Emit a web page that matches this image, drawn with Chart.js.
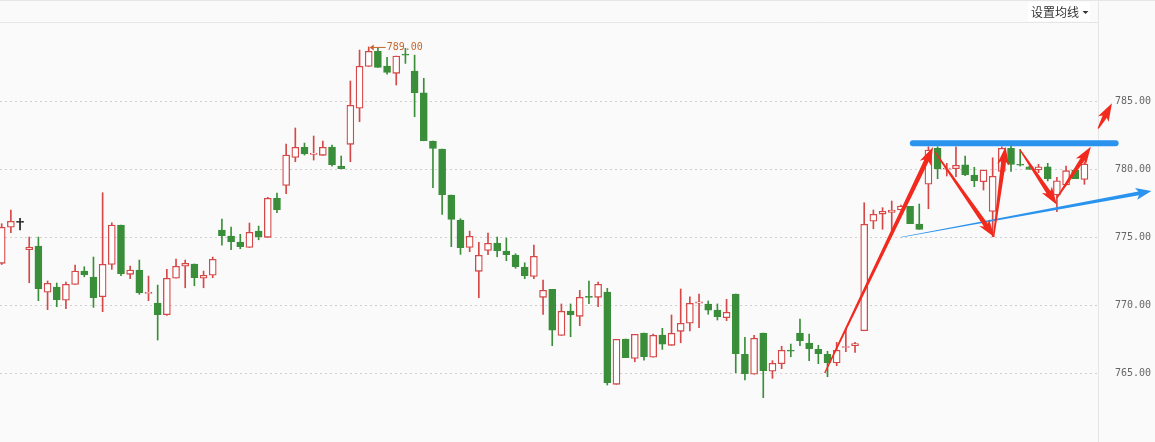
<!DOCTYPE html>
<html><head><meta charset="utf-8">
<script src="https://cdn.jsdelivr.net/npm/chart.js@4/dist/chart.umd.min.js"></script>
<style>html,body{margin:0;padding:0;background:#fafafa;}canvas{display:block;}</style>
</head><body>
<canvas id="c" width="1155" height="442"></canvas>
<script>
// ---- data (candle index 0..118) ----
const openP = [773.09,775.74,776.10,774.09,774.36,770.96,771.35,770.37,771.54,772.52,
772.08,770.63,773.01,775.90,772.28,772.60,770.88,770.17,769.31,771.99,
772.87,773.04,771.99,772.21,775.54,775.10,774.65,774.26,775.46,775.00,
777.87,778.82,780.88,781.62,781.10,781.03,781.64,780.24,781.84,784.49,
787.57,788.68,787.60,787.06,788.45,787.23,785.63,782.08,781.49,778.11,
776.27,774.26,772.50,774.04,774.58,773.99,773.70,772.82,772.13,770.59,
771.18,767.79,769.58,769.19,770.63,770.59,770.98,764.19,767.52,766.10,
767.96,766.18,767.82,767.06,768.09,768.68,770.15,770.10,769.65,769.09,
770.83,766.40,764.93,767.96,765.15,765.71,766.70,767.96,767.23,766.76,
766.40,765.76,766.90,767.03,768.13,776.18,776.71,776.84,777.01,777.28,
775.98,778.90,781.54,780.02,780.04,780.34,779.58,779.09,776.91,779.85,
781.54,780.35,780.19,779.95,780.19,778.11,778.85,779.95,779.26];
const highP = [776.00,777.00,776.40,775.02,775.02,771.79,771.64,771.71,772.96,772.84,
773.55,778.28,776.07,775.90,772.89,773.33,772.15,771.49,772.65,773.40,
773.33,773.04,772.52,773.55,776.35,775.76,775.22,776.05,775.83,777.94,
778.26,781.86,783.04,781.93,782.45,782.08,781.79,780.98,786.49,788.77,
789.00,788.90,788.24,788.33,788.90,788.40,786.69,782.08,781.49,778.11,
776.37,775.46,774.63,775.32,775.02,774.95,773.79,773.13,774.43,771.86,
771.18,770.10,770.10,771.10,771.79,771.71,771.25,767.50,767.52,767.87,
767.96,767.89,768.31,769.29,771.20,770.63,770.83,770.32,770.10,770.44,
770.83,767.65,767.79,767.96,765.93,766.99,767.15,768.99,767.89,767.06,
766.62,767.28,768.28,767.28,777.54,777.01,777.18,777.67,777.38,777.28,
777.45,781.66,781.66,780.44,781.66,780.98,780.15,779.95,780.85,781.66,
781.74,781.47,780.24,780.37,780.44,779.41,780.24,779.95,780.54];
const lowP = [773.00,775.34,775.54,771.66,770.34,769.68,769.90,769.75,771.54,772.10,
769.85,769.53,772.65,772.18,771.96,770.81,770.34,767.45,769.26,771.99,
771.29,771.44,771.29,772.03,774.43,774.09,774.16,774.26,774.82,775.00,
776.81,778.21,780.56,781.05,780.68,781.03,780.24,780.04,780.56,783.50,
787.57,787.50,787.00,786.20,787.79,783.87,782.10,778.65,776.69,774.31,
773.75,773.94,770.56,773.72,773.57,773.28,772.72,771.96,771.96,769.34,
767.03,767.79,767.69,768.50,770.12,769.90,764.14,764.19,766.15,765.85,
765.96,766.18,766.76,767.06,767.25,768.11,768.35,769.34,768.92,768.87,
765.04,764.51,764.93,763.21,764.63,765.34,766.22,767.03,765.93,765.71,
764.75,765.56,766.59,766.54,768.13,775.63,775.59,775.46,777.01,776.00,
775.59,777.10,779.31,779.51,779.46,779.53,778.72,778.48,775.04,779.85,
779.85,780.24,780.00,779.75,779.14,776.88,778.85,779.31,778.90];
const closeP = [775.74,776.18,776.10,774.29,771.22,771.62,770.41,771.54,772.52,772.25,
770.56,773.01,775.90,772.32,772.60,770.93,770.93,769.31,771.99,772.87,
773.09,772.03,772.21,773.38,775.12,774.68,774.31,775.37,775.04,777.87,
777.03,781.05,781.62,781.13,781.20,781.62,780.34,780.04,784.71,787.57,
788.68,787.50,787.13,788.33,788.40,785.63,782.10,781.54,778.13,776.32,
774.24,775.07,773.68,774.56,774.01,773.72,772.84,772.18,773.60,771.10,
768.18,769.56,769.31,770.59,770.58,771.54,764.31,767.50,766.15,767.87,
766.22,767.79,767.15,767.94,768.68,770.15,770.25,769.65,769.16,769.49,
766.44,764.97,767.57,765.19,765.74,766.69,766.63,767.40,766.81,766.44,
765.78,766.69,766.96,767.18,775.96,776.69,776.91,777.01,777.30,776.00,
775.59,781.42,780.04,780.07,780.29,779.60,779.16,779.95,779.49,781.54,
780.37,780.30,780.00,780.19,779.31,779.16,779.90,779.31,780.39];
const yTicks = [765, 770, 775, 780, 785];
const headerText = '设置均线';
// drawn annotations, in (candle index, price)
const resistance = {from: 99.3, to: 121.4, price: 781.91};
const trendArrow = [[98.0, 775.0], [125.3, 778.40]];
const redArrows = [
  [[89.7, 765.02], [101.5, 781.64]],
  [[101.7, 781.29], [108.2, 775.0]],
  [[108.1, 775.04], [109.4, 781.66]],
  [[111.0, 781.42], [115.0, 777.40]],
  [[115.0, 777.90], [118.7, 781.66]],
  [[119.5, 783.0], [121.0, 784.85]]
];

const RED = '#d64848', GREEN = '#3a8e3a', DOJI = '#222222';
const idx = openP.map((_, i) => i);
const stroke = idx.map(i => closeP[i] > openP[i] ? RED : closeP[i] < openP[i] ? GREEN : DOJI);
const fill = idx.map(i => closeP[i] > openP[i] ? '#ffffff' : stroke[i]);
const wickData = idx.map(i => ({x: i, y: [lowP[i], highP[i]]}));
const bodyData = idx.map(i => ({x: i, y: [openP[i], closeP[i]]}));

function taperArrow(ctx, x0, y0, x1, y1, w0, w1, headLen, headW, color) {
  const dx = x1 - x0, dy = y1 - y0, len = Math.hypot(dx, dy);
  const ux = dx / len, uy = dy / len, nx = -uy, ny = ux;
  const bx = x1 - ux * headLen, by = y1 - uy * headLen;
  const nbx = x1 - ux * headLen * 1.2, nby = y1 - uy * headLen * 1.2;
  ctx.fillStyle = color;
  ctx.beginPath();
  ctx.moveTo(x0 + nx * w0 / 2, y0 + ny * w0 / 2);
  ctx.lineTo(bx + nx * w1 / 2, by + ny * w1 / 2);
  ctx.lineTo(nbx + nx * headW / 2, nby + ny * headW / 2);
  ctx.lineTo(x1, y1);
  ctx.lineTo(nbx - nx * headW / 2, nby - ny * headW / 2);
  ctx.lineTo(bx - nx * w1 / 2, by - ny * w1 / 2);
  ctx.lineTo(x0 - nx * w0 / 2, y0 - ny * w0 / 2);
  ctx.closePath();
  ctx.fill();
}

const overlay = {
  id: 'overlay',
  beforeDraw(chart) {
    const ctx = chart.ctx;
    ctx.save();
    ctx.fillStyle = '#fafafa'; ctx.fillRect(0, 0, chart.width, chart.height);
    ctx.restore();
  },
  afterDraw(chart) {
    const ctx = chart.ctx, xs = chart.scales.x, ys = chart.scales.y, ca = chart.chartArea;
    const X = v => xs.getPixelForValue(v), Y = v => ys.getPixelForValue(v);
    ctx.save();
    // header
    ctx.strokeStyle = '#e6e6e6'; ctx.lineWidth = 1;
    ctx.beginPath(); ctx.moveTo(0, 0.5); ctx.lineTo(chart.width, 0.5); ctx.stroke();
    ctx.beginPath(); ctx.moveTo(0, 22.5); ctx.lineTo(ca.right, 22.5); ctx.stroke();
    ctx.fillStyle = '#ffffff'; ctx.fillRect(1028, 2, 62, 19);
    ctx.fillStyle = '#333333'; ctx.font = '12px "Noto Sans CJK SC"';
    ctx.textBaseline = 'middle'; ctx.textAlign = 'left';
    ctx.fillText(headerText, 1031, 12);
    ctx.beginPath(); ctx.moveTo(1082.5, 11); ctx.lineTo(1088.5, 11); ctx.lineTo(1085.5, 14); ctx.closePath(); ctx.fill();
    // right separator
    ctx.beginPath(); ctx.moveTo(ca.right + 0.5, 0); ctx.lineTo(ca.right + 0.5, chart.height); ctx.stroke();
    // max label
    let mi = 0; highP.forEach((h, i) => { if (h > highP[mi]) mi = i; });
    const mx = X(mi), my = Y(highP[mi]);
    ctx.strokeStyle = '#c8652a'; ctx.fillStyle = '#c8652a'; ctx.lineWidth = 1;
    ctx.beginPath(); ctx.moveTo(mx + 2, my + 0.5); ctx.lineTo(mx + 17, my + 0.5); ctx.stroke();
    ctx.beginPath(); ctx.moveTo(mx + 1, my + 0.5); ctx.lineTo(mx + 5, my - 2.5); ctx.lineTo(mx + 5, my + 3.5); ctx.closePath(); ctx.fill();
    ctx.font = '10px "DejaVu Sans Mono"'; ctx.textBaseline = 'middle';
    ctx.fillText(highP[mi].toFixed(2), mx + 18, my);
    // resistance line
    ctx.strokeStyle = '#2a93ee'; ctx.lineWidth = 6; ctx.lineCap = 'round';
    ctx.beginPath(); ctx.moveTo(X(resistance.from), Y(resistance.price)); ctx.lineTo(X(resistance.to), Y(resistance.price)); ctx.stroke();
    // trend arrow
    taperArrow(ctx, X(trendArrow[0][0]), Y(trendArrow[0][1]), X(trendArrow[1][0]), Y(trendArrow[1][1]), 0.6, 3.8, 13, 12, '#2a93ee');
    // red arrows
    redArrows.forEach(a => {
      taperArrow(ctx, X(a[0][0]), Y(a[0][1]), X(a[1][0]), Y(a[1][1]), 1.4, 4.8, 15, 12, '#f22a1e');
    });
    ctx.restore();
  }
};

new Chart(document.getElementById('c'), {
  type: 'bar',
  data: {
    datasets: [
      {label: 'wick', data: wickData, backgroundColor: stroke, borderWidth: 0, barThickness: 1, grouped: false, order: 2},
      {label: 'body', data: bodyData, backgroundColor: fill, borderColor: stroke, borderWidth: 1.3, borderSkipped: false, barThickness: 7, minBarLength: 1, grouped: false, order: 1}
    ]
  },
  options: {
    responsive: false, animation: false, devicePixelRatio: 1,
    layout: {padding: {top: 23, left: 0, right: 0, bottom: 0}},
    plugins: {legend: {display: false}, tooltip: {enabled: false}},
    scales: {
      x: {type: 'linear', display: false, min: -0.185, max: 119.48, offset: false},
      y: {
        position: 'right', min: 759.95, max: 790.76,
        afterFit: s => { s.width = 57; s.paddingTop = 0; s.paddingBottom = 0; },
        afterBuildTicks: s => { s.ticks = yTicks.map(v => ({value: v})); },
        grid: {color: '#cfcfcf', drawTicks: false, lineWidth: 1},
        border: {display: false, dash: [2, 3]},
        ticks: {padding: 17, color: '#666666', font: {family: 'DejaVu Sans Mono', size: 10}, callback: v => Number(v).toFixed(2)}
      }
    }
  },
  plugins: [overlay]
});
</script>
</body></html>
